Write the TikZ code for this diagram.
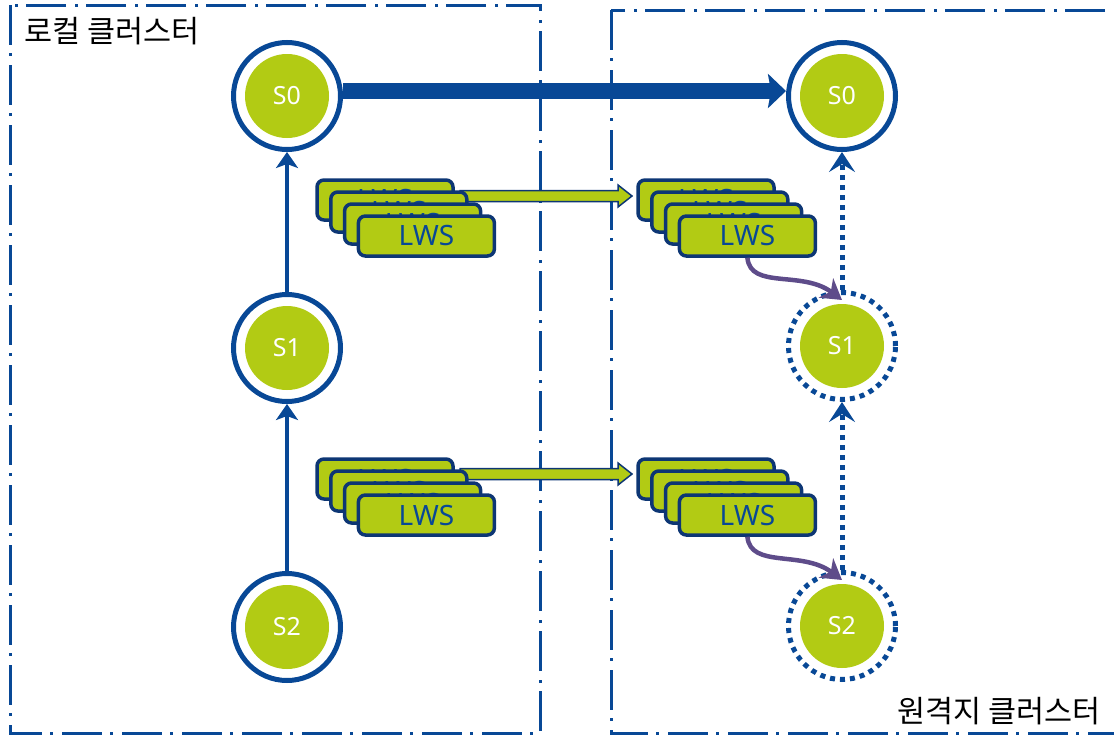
\documentclass[tikz,border=0pt]{standalone}
\usepackage{fontspec}
\setmainfont{Noto Sans}
\newfontfamily\krfont{Noto Sans CJK KR}
\usetikzlibrary{arrows.meta,calc}
\definecolor{cblue}{RGB}{8,72,150}
\definecolor{cnavy}{RGB}{13,54,116}
\definecolor{cgreen}{RGB}{178,203,20}
\definecolor{cpurple}{RGB}{94,76,138}
\tikzset{
  frame/.style={draw=cblue, line width=3pt, dash pattern=on 40pt off 8pt on 3pt off 9pt},
  state/.style={circle, draw=cblue, line width=5pt, fill=white, minimum size=107pt, inner sep=0pt,
    font=\fontsize{25}{25}\selectfont, text=white,
    path picture={\fill[cgreen] (path picture bounding box.center) circle (42pt);}},
  ghost/.style={state, dash pattern=on 5pt off 5pt},
  lws/.style={rectangle, rounded corners=7pt, draw=cnavy, line width=3.5pt, fill=cgreen,
    minimum width=136pt, minimum height=40pt, inner sep=0pt, text=cblue,
    font=\fontsize{28}{28}\selectfont},
  garrow/.style={draw=cnavy, line width=1.5pt, fill=cgreen, line join=miter},
  solidarr/.style={draw=cblue, line width=4pt, -{Stealth[length=16pt,width=22pt,inset=4pt]}},
  bigarr/.style={draw=cblue, line width=16pt, -{Stealth[length=18pt,width=34pt,inset=3pt]}},
  dotarr/.style={draw=cblue, line width=5pt, dash pattern=on 5pt off 5pt, -{Stealth[length=20pt,width=26pt,inset=8pt]}},
  purarr/.style={draw=cpurple, line width=4.5pt, -{Stealth[length=20pt,width=24pt,inset=6pt]}},
  label/.style={font=\krfont\fontsize{30.5}{31}\selectfont, text=black, inner sep=0pt},
}
\begin{document}
\begin{tikzpicture}[x=1pt,y=-1pt]
\useasboundingbox (0,0) rectangle (1114,736);
% cluster frames
\draw[frame] (10,5) rectangle (540,733);
\draw[frame] (611,10) rectangle (1125,733);
\node[label, anchor=west] (lt) at (24,31) {로컬 클러스터};
\node[label, anchor=east] (rt) at (1101,711) {원격지 클러스터};

% states
\node[state] (L0) at (287,96) {S0};
\node[state] (L1) at (287,348) {S1};
\node[state] (L2) at (287,627) {S2};
\node[state] (R0) at (842,96) {S0};
\node[ghost] (R1) at (842,346) {S1};
\node[ghost] (R2) at (842,626) {S2};

% stack anchors (back box centres)
\coordinate (LUa) at (385,200);
\coordinate (RUa) at (706,200);
\coordinate (LLa) at (385,479);
\coordinate (RLa) at (706,479);

% green transfer arrows (behind boxes)
\coordinate (gaU) at ($(LUa)+(75,-4)$);
\coordinate (gbU) at (632,196);
\draw[garrow] ($(gaU)+(0,-5.5)$) -- ($(gbU)+(-14,-5.5)$) -- ($(gbU)+(-14,-11)$) -- (gbU)
  -- ($(gbU)+(-14,11)$) -- ($(gbU)+(-14,5.5)$) -- ($(gaU)+(0,5.5)$) -- cycle;
\coordinate (gaL) at ($(LLa)+(75,-5)$);
\coordinate (gbL) at (632,474);
\draw[garrow] ($(gaL)+(0,-5.5)$) -- ($(gbL)+(-14,-5.5)$) -- ($(gbL)+(-14,-11)$) -- (gbL)
  -- ($(gbL)+(-14,11)$) -- ($(gbL)+(-14,5.5)$) -- ($(gaL)+(0,5.5)$) -- cycle;

% LWS stacks
\foreach \s in {LU,RU,LL,RL}{
  \foreach \k in {1,2,3,4}{
    \node[lws] (\s\k) at ($(\s a)+({(\k-1)*13.8},{(\k-1)*12})$) {LWS};
  }
}

% connectors
\draw[solidarr] (L1) -- (L0);
\draw[solidarr] (L2) -- (L1);
\draw[bigarr] ($(L0.east)+(0,-5)$) -- ($(R0.west)+(0,-5)$);
\draw[dotarr] (R1) -- (R0);
\draw[dotarr] (R2) -- (R1);
\draw[purarr] (RU4.south) .. controls +(3,32) and +(-40,-30) .. ($(R1.north)+(0,10)$);
\draw[purarr] (RL4.south) .. controls +(3,32) and +(-40,-30) .. ($(R2.north)+(0,10)$);
\end{tikzpicture}
\end{document}
